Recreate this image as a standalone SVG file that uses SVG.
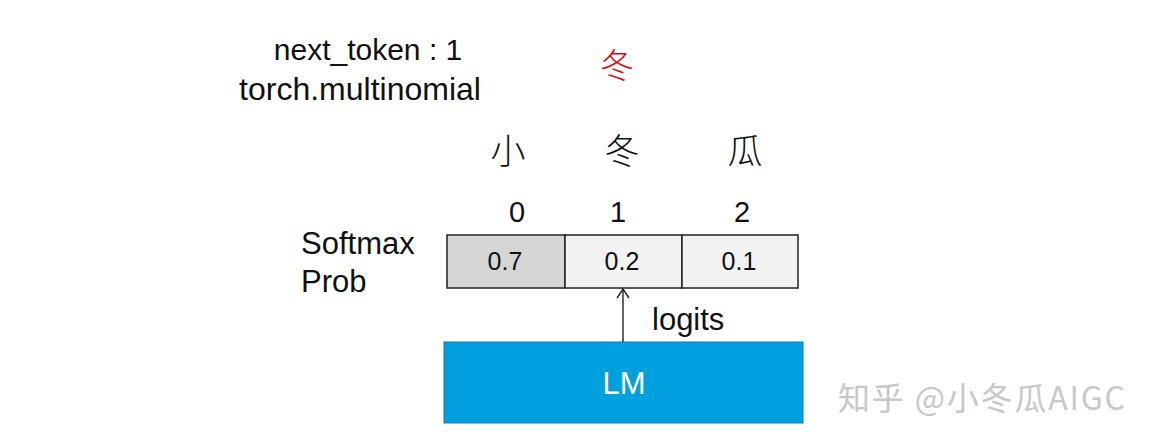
<svg xmlns="http://www.w3.org/2000/svg" width="1154" height="444" viewBox="0 0 1154 444">
<defs>
<style>
.t{font-family:"Liberation Sans",Arial,sans-serif;fill:#111}
.cjk{font-family:"Noto Sans CJK SC",sans-serif;font-weight:300}
.cell{stroke:#222;stroke-width:1.5}
</style>
<marker id="arr" viewBox="0 0 12 14" refX="11" refY="7" markerWidth="12" markerHeight="14" markerUnits="userSpaceOnUse" orient="auto">
<path d="M2,1 L11,7 L2,13" fill="none" stroke="#222" stroke-width="1.4"/>
</marker>
</defs>
<rect width="1154" height="444" fill="#fff"/>
<g id="header">
<text class="t" x="368" y="60" font-size="30" text-anchor="middle">next_token : 1</text>
<text class="t" x="360" y="100" font-size="32" text-anchor="middle">torch.multinomial</text>
<text class="cjk" x="617" y="78" font-size="34" fill="#d01010" text-anchor="middle">冬</text>
</g>
<g id="tokens">
<text class="cjk" x="508" y="164" font-size="35" fill="#111" text-anchor="middle">小</text>
<text class="cjk" x="622" y="164" font-size="35" fill="#111" text-anchor="middle">冬</text>
<text class="cjk" x="745" y="164" font-size="35" fill="#111" text-anchor="middle">瓜</text>
<text class="t" x="517" y="222" font-size="29" text-anchor="middle">0</text>
<text class="t" x="618" y="222" font-size="29" text-anchor="middle">1</text>
<text class="t" x="742" y="222" font-size="29" text-anchor="middle">2</text>
</g>
<g id="softmax-label">
<text class="t" x="301" y="254" font-size="31">Softmax</text>
<text class="t" x="301" y="292" font-size="31">Prob</text>
</g>
<g id="prob-cells">
<rect class="cell" x="447" y="235" width="118" height="53" fill="#d6d6d6"/>
<rect class="cell" x="565" y="235" width="117" height="53" fill="#f2f2f2"/>
<rect class="cell" x="682" y="235" width="116" height="53" fill="#f2f2f2"/>
<text class="t" x="505" y="270" font-size="25" text-anchor="middle">0.7</text>
<text class="t" x="622" y="270" font-size="25" text-anchor="middle">0.2</text>
<text class="t" x="739" y="270" font-size="25" text-anchor="middle">0.1</text>
</g>
<g id="lm">
<rect x="444" y="342" width="359" height="81" fill="#009fde" stroke="#0a7fb5" stroke-width="1"/>
<text class="t" x="624" y="394" font-size="31" text-anchor="middle" style="fill:#fff">LM</text>
</g>
<g id="connectors">
<line x1="623" y1="342" x2="623" y2="289" stroke="#222" stroke-width="1.4" marker-end="url(#arr)"/>
<text class="t" x="652" y="330" font-size="31">logits</text>
</g>
<g id="watermark">
<text class="cjk" x="838" y="410" font-size="32" fill="#c8c8c8" textLength="287" lengthAdjust="spacing" style="font-weight:400">知乎 @小冬瓜AIGC</text>
</g>
</svg>
